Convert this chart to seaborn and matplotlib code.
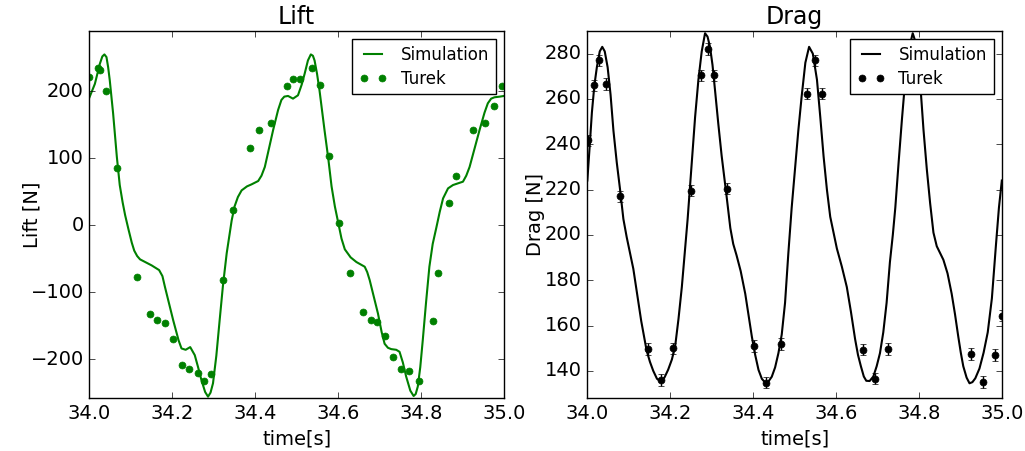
import numpy as np
import pandas as pd
import seaborn as sns
import matplotlib.pyplot as plt

# Lift: simulation curve (time, value)
lift_sim_t = [34.000, 34.013, 34.025, 34.031, 34.036, 34.041, 34.045, 34.049, 34.057, 34.066,
              34.073, 34.080, 34.086, 34.094, 34.102, 34.108, 34.115, 34.122, 34.150, 34.168,
              34.176, 34.182, 34.202, 34.215, 34.222, 34.232, 34.243, 34.254, 34.262, 34.270,
              34.279, 34.286, 34.292, 34.298, 34.306, 34.314, 34.322, 34.331, 34.343, 34.350,
              34.358, 34.367, 34.380, 34.391, 34.407, 34.415, 34.423, 34.443, 34.455, 34.463,
              34.470, 34.479, 34.491, 34.503, 34.512, 34.519, 34.527, 34.534, 34.539, 34.543,
              34.549, 34.555, 34.567, 34.576, 34.584, 34.592, 34.600, 34.608, 34.616, 34.630,
              34.644, 34.664, 34.670, 34.676, 34.696, 34.705, 34.712, 34.720, 34.728, 34.740,
              34.748, 34.756, 34.764, 34.774, 34.782, 34.787, 34.792, 34.798, 34.804, 34.812,
              34.820, 34.828, 34.837, 34.845, 34.853, 34.865, 34.877, 34.901, 34.909, 34.917,
              34.941, 34.953, 34.961, 34.969, 34.977, 34.990, 35.000]
lift_sim_v = [191, 211, 241, 252, 255, 251, 236, 216, 167, 102,
              60, 34, 15, -6, -26, -38, -46, -51, -60, -67,
              -76, -92, -142, -172, -184, -186, -182, -194, -212, -231,
              -249, -256, -250, -236, -195, -142, -90, -42, 7, 28,
              42, 52, 58, 61, 66, 74, 87, 142, 172, 187,
              192, 193, 189, 194, 210, 226, 246, 255, 253, 246,
              226, 201, 142, 100, 58, 28, 4, -20, -36, -48,
              -55, -62, -70, -82, -132, -160, -177, -183, -185, -186,
              -189, -205, -226, -247, -255, -252, -241, -212, -172, -115,
              -62, -28, -3, 20, 40, 55, 60, 65, 74, 87,
              142, 168, 182, 189, 191, 192, 193]

# Lift: Turek reference points
lift_ref_t = [34.000, 34.020, 34.026, 34.040, 34.066, 34.114, 34.146, 34.163, 34.183, 34.201,
              34.224, 34.239, 34.261, 34.277, 34.293, 34.322, 34.347, 34.388, 34.409, 34.437,
              34.477, 34.491, 34.509, 34.537, 34.555, 34.579, 34.601, 34.629, 34.661, 34.678,
              34.694, 34.714, 34.732, 34.751, 34.770, 34.796, 34.828, 34.842, 34.867, 34.884,
              34.925, 34.953, 34.975, 34.994]
lift_ref_v = [222, 235, 232, 200, 86, -77, -133, -141, -146, -170,
              -208, -215, -221, -233, -222, -82, 22, 116, 142, 152,
              208, 219, 218, 235, 209, 104, 3, -71, -129, -141,
              -144, -165, -197, -215, -217, -232, -143, -71, 33, 74,
              142, 152, 178, 208]

# Drag: simulation curve
drag_sim_t = [34.000, 34.006, 34.011, 34.017, 34.023, 34.030, 34.036, 34.042, 34.049, 34.056,
              34.063, 34.071, 34.079, 34.087, 34.095, 34.111, 34.130, 34.143, 34.151, 34.159,
              34.168, 34.177, 34.186, 34.195, 34.204, 34.212, 34.220, 34.228, 34.235, 34.242,
              34.252, 34.260, 34.268, 34.276, 34.284, 34.290, 34.296, 34.302, 34.308, 34.316,
              34.324, 34.336, 34.345, 34.352, 34.360, 34.370, 34.381, 34.397, 34.405, 34.413,
              34.421, 34.429, 34.437, 34.445, 34.453, 34.461, 34.469, 34.477, 34.485, 34.493,
              34.501, 34.509, 34.517, 34.526, 34.535, 34.544, 34.554, 34.562, 34.570, 34.578,
              34.586, 34.602, 34.614, 34.626, 34.636, 34.646, 34.653, 34.660, 34.667, 34.673,
              34.681, 34.690, 34.698, 34.706, 34.714, 34.722, 34.730, 34.737, 34.743, 34.751,
              34.759, 34.767, 34.776, 34.785, 34.792, 34.799, 34.805, 34.811, 34.819, 34.827,
              34.835, 34.843, 34.851, 34.859, 34.869, 34.879, 34.887, 34.895, 34.901, 34.907,
              34.915, 34.922, 34.929, 34.936, 34.946, 34.956, 34.966, 34.976, 34.986, 34.993,
              35.000]
drag_sim_v = [224, 240, 254, 266, 274, 281, 283, 281, 274, 262,
              246, 232, 220, 207, 199, 185, 162, 149, 144, 140,
              136.5, 135.3, 137, 140.5, 145, 151, 163, 177, 192, 207,
              232, 252, 268.5, 281, 289, 287.5, 283, 275, 264, 249,
              235, 217, 203, 196, 191, 184, 174, 155, 147, 140.4,
              136.5, 134.8, 135.3, 137.4, 141.5, 147.8, 156, 170, 192, 212,
              229, 246, 261, 276, 283, 280, 268.5, 252, 234.6, 220,
              208, 194, 186, 177, 166, 154, 147, 142, 137.5, 135.6,
              135.5, 137.5, 142, 147.8, 157, 170, 188, 200, 212, 232,
              251, 268.5, 282, 289, 285, 276, 262, 246.4, 229, 214,
              201, 195, 192, 189, 183, 174, 165, 155, 148, 142,
              137, 134.5, 135, 136.7, 141, 148, 157, 172, 196, 212,
              224]

# Drag: Turek reference points with error bars
drag_ref_t = [34.001, 34.015, 34.028, 34.045, 34.079, 34.146, 34.177, 34.206, 34.250, 34.274,
              34.291, 34.306, 34.336, 34.403, 34.432, 34.467, 34.531, 34.549, 34.567, 34.665,
              34.695, 34.725, 34.925, 34.954, 34.983, 35.000]
drag_ref_v = [241.7, 266, 277, 266.6, 217, 149.7, 136, 150, 219.5, 270.4,
              282, 270.4, 220.4, 151, 134.8, 151.9, 262.3, 277, 262.3, 149.4,
              136.6, 149.7, 147.4, 135, 147, 164.4]
drag_ref_err = [2.5, 2.5, 2.5, 2.5, 2.5, 2.5, 2.5, 2.5, 2.5, 2.5,
                2.5, 2.5, 2.5, 2.5, 2.5, 2.5, 2.5, 2.5, 2.5, 2.5,
                2.5, 2.5, 2.5, 2.5, 2.5, 2.5]

plt.style.use('classic')
plt.rcParams['figure.facecolor'] = 'white'
plt.rcParams['savefig.facecolor'] = 'white'
plt.rcParams['font.family'] = ['DejaVu Sans']
plt.rcParams['axes.formatter.useoffset'] = False

fig = plt.figure(figsize=(10.25, 4.51), dpi=100)
ax1 = fig.add_axes([0.0873, 0.1175, 0.4044, 0.8138])
ax2 = fig.add_axes([0.5730, 0.1175, 0.4044, 0.8138])

leg_kw = dict(loc='upper right', fontsize=12, numpoints=2, handlelength=1.7, labelspacing=0.35)

# Lift panel
sns.lineplot(x=lift_sim_t, y=lift_sim_v, ax=ax1, color='g', lw=1.5, sort=False,
             estimator=None, label='Simulation', legend=False)
ax1.plot(lift_ref_t, lift_ref_v, 'o', color='g', mec='g', ms=5, label='Turek')
ax1.set_xlim(34.0, 35.0)
ax1.set_ylim(-258, 290)
ax1.set_title('Lift', fontsize=17)
ax1.set_xlabel('time[s]', fontsize=14)
ax1.set_ylabel('Lift [N]', fontsize=14, labelpad=-8)
ax1.legend(**leg_kw)

# Drag panel
sns.lineplot(x=drag_sim_t, y=drag_sim_v, ax=ax2, color='k', lw=1.5, sort=False,
             estimator=None, label='Simulation', legend=False)
ax2.errorbar(drag_ref_t, drag_ref_v, yerr=drag_ref_err, fmt='none', ecolor='k', capsize=2)
ax2.plot(drag_ref_t, drag_ref_v, 'o', color='k', mec='k', ms=5, label='Turek')
ax2.set_xlim(34.0, 35.0)
ax2.set_ylim(128, 290)
ax2.set_title('Drag', fontsize=17)
ax2.set_xlabel('time[s]', fontsize=14)
ax2.set_ylabel('Drag [N]', fontsize=14, labelpad=0)
ax2.legend(**leg_kw)

for ax in (ax1, ax2):
    ax.tick_params(labelsize=14)

fig.savefig('out.png', dpi=100)
